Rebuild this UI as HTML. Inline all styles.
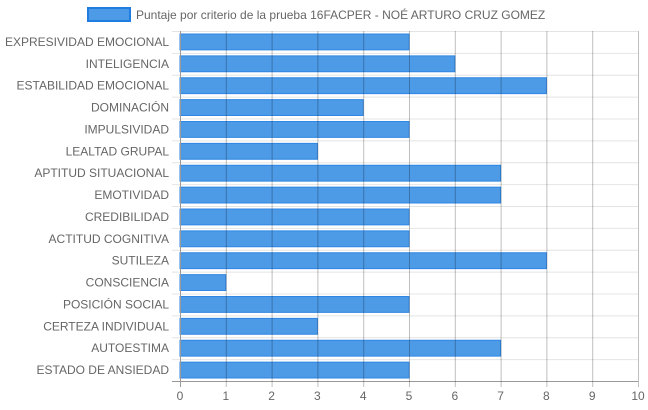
<!DOCTYPE html>
<html><head><meta charset="utf-8"><style>
body{margin:0;background:#fff;}
svg{display:block;font-family:"Liberation Sans",sans-serif;}
</style></head><body>
<svg id="c" width="648" height="410">
<rect x="88" y="8" width="42" height="13" fill="#4d9ae6" stroke="#1f7ce0" stroke-width="2"/>
<text x="136" y="19" font-size="12" fill="#666">Puntaje por criterio de la prueba 16FACPER - NOÉ ARTURO CRUZ GOMEZ</text>
<g id="grid"></g><g id="bars"></g><g id="labels"></g>
</svg>
<script>
const categories=["EXPRESIVIDAD EMOCIONAL","INTELIGENCIA","ESTABILIDAD EMOCIONAL","DOMINACIÓN","IMPULSIVIDAD","LEALTAD GRUPAL","APTITUD SITUACIONAL","EMOTIVIDAD","CREDIBILIDAD","ACTITUD COGNITIVA","SUTILEZA","CONSCIENCIA","POSICIÓN SOCIAL","CERTEZA INDIVIDUAL","AUTOESTIMA","ESTADO DE ANSIEDAD"];
const values=[5,6,8,4,5,3,7,7,5,5,8,1,5,3,7,5];
const ticks=[0,1,2,3,4,5,6,7,8,9,10];
const ns="http://www.w3.org/2000/svg";
const L=180,R=638,T=31,B=381;
const xs=v=>L+(R-L)*v/10;
const band=(B-T)/categories.length;
const ys=i=>T+band*i;
function mk(tag,attrs,parent){const e=document.createElementNS(ns,tag);for(const k in attrs)e.setAttribute(k,attrs[k]);document.getElementById(parent).appendChild(e);return e;}
for(let i=0;i<=categories.length;i++){
 const g=mk('line',{x1:172,x2:R,y1:ys(i)+0.5,y2:ys(i)+0.5,stroke:i==categories.length?'#999':'#e4e4e4'},'grid');
 
 
}
categories.forEach((c,i)=>{
 const r=mk('rect',{x:xs(0),y:ys(i)+3,width:xs(values[i])-xs(0),height:band-6,fill:'#4d9ae6',stroke:'#2f86e3','stroke-width':1},'bars');
 
 
 const t=mk('text',{x:169,y:ys(i)+band/2+4,'text-anchor':'end','font-size':12,fill:'#666'},'labels');
 t.textContent=c;
 
 
});
ticks.forEach(v=>{
 const l=mk('line',{x1:xs(v)+0.5,x2:xs(v)+0.5,y1:T,y2:B+6,stroke:v==0?'#999':'rgba(0,0,0,0.25)'},'labels');
 
 
 const t=mk('text',{x:xs(v),y:400,'text-anchor':'middle','font-size':12,fill:'#666'},'labels');
 t.textContent=v;
 
 
});
</script>
</body></html>
